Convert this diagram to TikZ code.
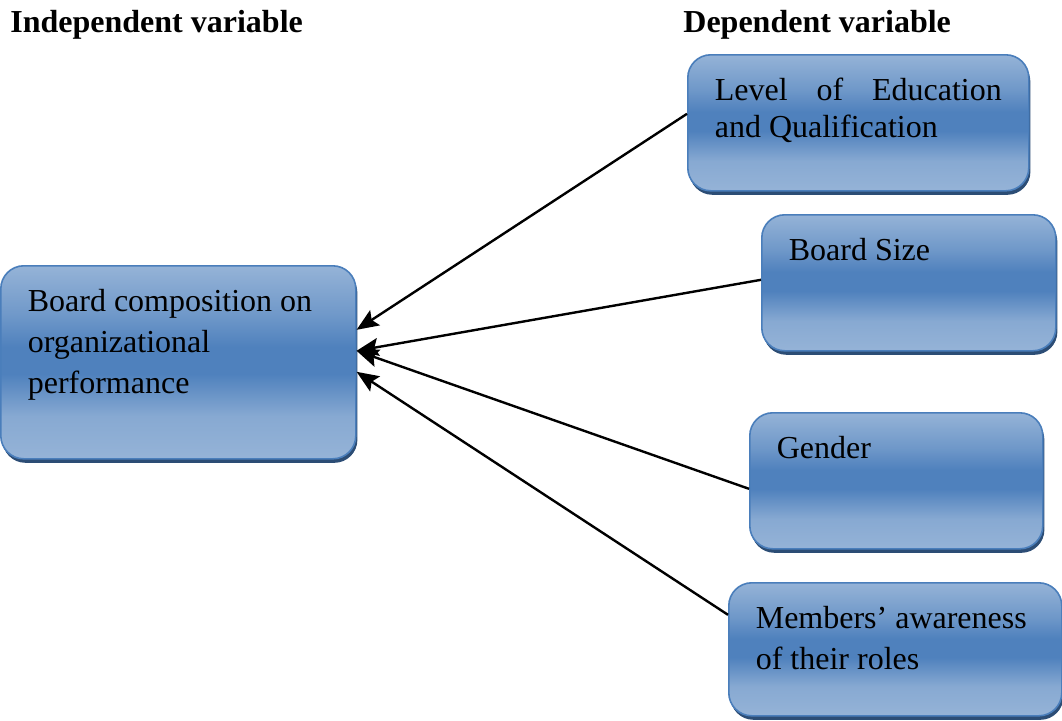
\documentclass[tikz,border=0pt]{standalone}
\usepackage{fontspec}
\setmainfont{Liberation Serif}[BoldFont={Liberation Serif Bold}]
\usetikzlibrary{positioning,arrows.meta,shadows}

\definecolor{boxlight}{HTML}{95B3D7}
\definecolor{boxmid}{HTML}{4F81BD}
\definecolor{boxedge}{HTML}{4A7EBB}
\definecolor{boxshadow}{HTML}{2C4D75}
\pgfdeclareverticalshading{boxshading}{100bp}{color(0bp)=(boxlight); color(25bp)=(boxlight); color(36bp)=(boxlight!80!boxmid); color(47bp)=(boxmid); color(54bp)=(boxmid); color(62bp)=(boxmid!55!boxlight); color(75bp)=(boxlight); color(100bp)=(boxlight)}

% text block of a box: height, width, text (top aligned)
\newcommand{\boxtext}[4][\raggedright]{\parbox[c][#2][t]{#3}{#1\rule{0pt}{23pt}#4}}

\begin{document}
\begin{tikzpicture}[x=0.5pt,y=-0.5pt,>={Stealth[length=11pt,width=9pt,inset=2pt]},
    heading/.style={anchor=base west,inner sep=0pt,font=\fontsize{16}{19}\selectfont\bfseries},
    var box/.style={anchor=north west,rounded corners=11.5pt,draw=boxedge,line width=0.8pt,
      shade,shading=boxshading,
      drop shadow={shadow xshift=0.8pt,shadow yshift=-2pt,fill=boxshadow,opacity=1},
      inner xsep=13.5pt,inner ysep=0pt,font=\fontsize{16}{20.5}\selectfont},
    link/.style={->,line width=1.2pt}]

\useasboundingbox (0,0) rectangle (1062,720);

\node[heading] (indep) at (10,32)  {Independent variable};
\node[heading] (dep)   at (683,32) {Dependent variable};

% independent variable
\node[var box] (perf) at (0,265) {\boxtext{96.5pt}{150.5pt}{Board composition on organizational performance}};

% dependent variables
\node[var box,font=\fontsize{16}{18.5}\selectfont] (edu) at (687,54) {\boxtext[\relax]{68pt}{143.5pt}{Level of Education and Qualification}};
\node[var box] (size)    at (761,214) {\boxtext{68pt}{120pt}{Board Size}};
\node[var box] (gender)  at (749,412) {\boxtext{68pt}{119.5pt}{Gender}};
\node[var box] (members) at (728,582) {\boxtext{66.5pt}{139.5pt}{Members’ awareness of their roles}};

\path[link]
([yshift=4.5pt]edu.west)      edge ([yshift=16.25pt]perf.east)
([yshift=1.5pt]size.west)     edge ([yshift=5.75pt]perf.east)
([yshift=-4pt]gender.west)    edge ([yshift=5.75pt]perf.east)
([yshift=17.25pt]members.west) edge ([yshift=-4.75pt]perf.east);
\end{tikzpicture}
\end{document}
